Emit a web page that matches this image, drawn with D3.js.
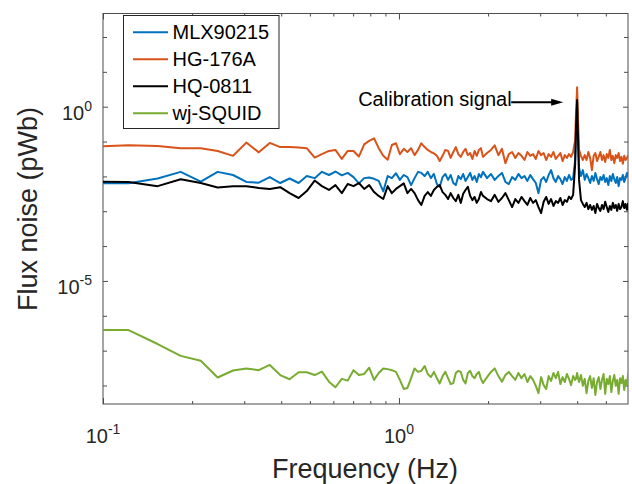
<!DOCTYPE html>
<html>
<head>
<meta charset="utf-8">
<script src="https://cdn.jsdelivr.net/npm/d3@7"></script>
<style>
  body { margin: 0; background: #fff; }
  text { font-family: "Liberation Sans", Arial, sans-serif; fill: #262626; }
</style>
</head>
<body>
<svg width="632" height="484"></svg>
<script>
// FFT frequency bins (Hz)
const freqHz = [
  0.092,0.122,0.153,0.183,0.214,0.244,0.275,0.305,0.336,0.366,
  0.397,0.427,0.458,0.488,0.519,0.549,0.580,0.610,0.641,0.671,
  0.702,0.732,0.763,0.793,0.824,0.854,0.885,0.916,0.946,0.977,
  1.007,1.038,1.068,1.099,1.129,1.160,1.190,1.221,1.251,1.282,
  1.312,1.343,1.373,1.404,1.434,1.465,1.495,1.526,1.556,1.587,
  1.617,1.648,1.678,1.709,1.740,1.770,1.801,1.831,1.862,1.892,
  1.923,
  1.984,2.045,2.106,2.167,2.228,2.289,2.350,2.411,2.472,2.533,
  2.594,2.655,2.716,2.777,2.838,2.899,2.960,3.021,3.082,3.143,
  3.204,3.265,3.326,3.387,3.449,3.510,3.571,3.632,3.693,3.754,
  3.815,3.876,3.937,
  3.967,3.998,4.028,
  4.059,4.120,4.181,4.242,4.303,4.364,4.425,4.486,4.547,4.608,
  4.669,4.730,4.791,4.852,4.913,4.974,5.035,5.096,5.157,5.218,
  5.279,5.340,5.401,5.462,5.523,5.584,5.645,5.706,5.767,5.829,
  5.890,5.951
];

// flux noise, log10 of pWb, one value per bin
const mlxLog = [
  -2.20,-2.20,-2.06,-1.87,-2.15,-1.87,-1.96,-2.16,-2.18,-2.02,
  -2.19,-2.06,-2.19,-1.99,-2.05,-1.87,-1.96,-1.86,-1.97,-1.90,
  -2.02,-2.20,-2.05,-2.03,-2.07,-2.13,-2.43,-1.99,-2.05,-1.91,
  -2.10,-1.96,-2.02,-2.25,-2.05,-1.87,-1.90,-1.99,-1.87,-2.05,
  -1.93,-2.22,-2.30,-2.02,-1.93,-2.10,-1.96,-2.19,-2.25,-1.99,
  -2.08,-1.93,-2.13,-2.02,-1.90,-2.10,-1.99,-2.16,-1.93,-2.02,
  -1.87,
  -2.05,-1.93,-2.10,-1.99,-1.90,-2.16,-2.22,-2.02,-2.10,-1.93,
  -2.05,-1.99,-2.13,-1.96,-2.08,-2.19,-2.48,-2.10,-2.02,-2.16,
  -1.96,-1.82,-2.05,-2.16,-1.99,-2.08,-2.22,-2.02,-2.13,-1.96,
  -2.10,-2.05,-1.53,
  -0.53,0.05,-0.81,
  -1.76,-1.99,-1.82,-2.10,-1.93,-2.05,-2.19,-1.99,-2.13,-1.90,
  -2.08,-2.22,-2.02,-2.10,-1.96,-2.16,-2.05,-2.25,-1.99,-2.13,
  -1.93,-2.08,-2.19,-2.02,-2.28,-2.05,-2.10,-1.96,-2.16,-2.05,
  -1.90,-1.99
];
const hgLog = [
  -1.15,-1.11,-1.13,-1.19,-1.19,-1.27,-1.41,-1.03,-1.31,-1.04,
  -1.16,-1.16,-1.17,-1.19,-1.46,-1.36,-1.27,-1.24,-1.50,-1.27,
  -1.27,-1.43,-1.08,-0.98,-0.91,-1.19,-1.41,-1.52,-1.10,-1.05,
  -1.36,-1.21,-1.30,-1.19,-1.39,-1.24,-1.05,-1.16,-1.24,-1.30,
  -1.34,-1.41,-1.56,-1.41,-1.24,-1.27,-1.47,-1.30,-1.16,-1.36,
  -1.44,-1.30,-1.21,-1.39,-1.33,-1.50,-1.27,-1.41,-1.24,-1.19,
  -1.44,
  -1.33,-1.24,-1.11,-1.39,-1.21,-1.62,-1.36,-1.30,-1.47,-1.33,
  -1.41,-1.53,-1.30,-1.41,-1.36,-1.50,-1.27,-1.39,-1.33,-1.53,
  -1.36,-1.44,-1.30,-1.50,-1.41,-1.33,-1.56,-1.39,-1.47,-1.36,
  -1.44,-1.30,-0.96,
  -0.10,0.56,-0.38,
  -1.24,-1.41,-1.53,-1.39,-1.53,-1.30,-1.47,-1.82,-1.41,-1.33,
  -1.56,-1.44,-1.30,-1.53,-1.39,-1.59,-1.36,-1.47,-1.24,-1.53,
  -1.41,-1.62,-1.39,-1.47,-1.33,-1.56,-1.44,-1.64,-1.41,-1.53,
  -1.47,-1.39
];
const hqLog = [
  -2.15,-2.16,-2.28,-2.08,-2.19,-2.32,-2.28,-2.28,-2.33,-2.36,
  -2.31,-2.48,-2.62,-2.42,-2.12,-2.28,-2.39,-2.25,-2.48,-2.22,
  -2.28,-2.19,-2.36,-2.25,-2.45,-2.56,-2.65,-2.28,-2.48,-2.36,
  -2.28,-2.20,-2.48,-2.36,-2.48,-2.68,-2.82,-2.56,-2.45,-2.56,
  -2.39,-2.30,-2.25,-2.45,-2.53,-2.65,-2.48,-2.62,-2.71,-2.53,
  -2.76,-2.50,-2.39,-2.30,-2.56,-2.68,-2.59,-2.76,-2.65,-2.45,
  -2.56,
  -2.65,-2.71,-2.53,-2.73,-2.62,-2.48,-2.68,-2.88,-2.65,-2.76,
  -2.59,-2.71,-2.82,-2.62,-2.76,-2.68,-2.88,-3.05,-2.73,-2.59,
  -2.79,-2.65,-2.85,-2.71,-2.76,-2.62,-2.82,-2.68,-2.73,-2.58,
  -2.65,-2.53,-1.67,
  -0.53,0.19,-0.96,
  -2.10,-2.68,-2.79,-2.88,-2.76,-2.94,-2.82,-2.96,-2.85,-3.05,
  -2.79,-2.91,-2.99,-2.82,-2.94,-2.73,-2.88,-3.02,-2.85,-2.96,
  -2.76,-2.91,-2.82,-2.99,-2.79,-2.94,-2.88,-2.71,-2.91,-2.79,
  -2.96,-2.76
];
const wjLog = [
  -6.41,-6.41,-6.81,-7.15,-7.29,-7.77,-7.57,-7.51,-7.56,-7.41,
  -7.70,-7.82,-7.62,-7.62,-7.70,-7.60,-7.89,-8.05,-7.81,-7.86,
  -7.56,-7.70,-7.67,-7.49,-7.84,-7.64,-7.51,-7.53,-7.56,-7.61,
  -7.84,-8.10,-8.07,-7.79,-7.51,-7.61,-7.58,-7.44,-7.67,-7.76,
  -7.61,-7.79,-7.94,-7.73,-7.61,-7.79,-7.96,-7.93,-7.64,-7.58,
  -7.61,-7.84,-7.94,-7.64,-7.58,-7.73,-7.79,-7.67,-7.61,-7.81,
  -7.93,
  -7.76,-7.61,-7.51,-7.73,-7.89,-7.70,-7.61,-7.73,-7.84,-7.64,
  -7.79,-7.67,-7.90,-7.73,-7.84,-8.01,-8.22,-7.76,-7.99,-8.10,
  -7.73,-7.87,-7.64,-7.79,-7.61,-7.96,-7.76,-7.90,-7.67,-7.81,
  -7.99,-7.73,-7.84,
  -7.79,-7.64,-7.79,
  -7.90,-7.70,-8.01,-7.81,-8.22,-7.87,-7.73,-8.07,-7.79,-8.27,
  -7.90,-7.76,-8.10,-7.84,-7.67,-8.24,-7.81,-7.96,-7.73,-8.19,
  -7.87,-7.70,-8.01,-7.84,-8.24,-7.79,-7.93,-7.73,-8.13,-7.84,
  -7.99,-7.64
];

const seriesNames = ['MLX90215', 'HG-176A', 'HQ-0811', 'wj-SQUID'];
const seriesColors = ['#0072BD', '#D95319', '#000000', '#77AC30'];
const seriesLogs = [mlxLog, hgLog, hqLog, wjLog];

const xMajorTicks = [0.1, 1];
const xMajorExp = ['-1', '0'];
const xMinorTicks = [0.2, 0.3, 0.4, 0.5, 0.6, 0.7, 0.8, 0.9, 2, 3, 4, 5];
const yMajorTicks = [1e-5, 1];
const yMajorExp = ['-5', '0'];
const yMinorTicks = [1e-8, 1e-7, 1e-6, 1e-4, 1e-3, 1e-2, 1e-1, 1e1, 1e2];

const calFreq = 4;      // calibration line
const calLevel = 1.34;  // arrow height, pWb

const svg = d3.select('svg');
const plot = { left: 103, right: 628, top: 13.5, bottom: 404 };

const x = d3.scaleLog().domain([0.1, 5.94]).range([plot.left, plot.right]);
const y = d3.scaleLog().domain([Math.pow(10, -8.531), Math.pow(10, 2.674)]).range([plot.bottom, plot.top]);

svg.append('defs').append('clipPath').attr('id', 'clip')
  .append('rect')
  .attr('x', plot.left).attr('y', plot.top)
  .attr('width', plot.right - plot.left).attr('height', plot.bottom - plot.top);

// ticks, pointing inward on all four sides
function ticks(axis, values, size, transform) {
  const g = svg.append('g').attr('transform', transform)
    .call(axis.tickValues(values).tickSize(-size).tickFormat(() => ''));
  g.select('.domain').remove();
  g.selectAll('line').attr('stroke', '#4d4d4d');
}
ticks(d3.axisBottom(x), xMajorTicks, 6, `translate(0,${plot.bottom})`);
ticks(d3.axisBottom(x), xMinorTicks, 3, `translate(0,${plot.bottom})`);
ticks(d3.axisTop(x), xMajorTicks, 6, `translate(0,${plot.top})`);
ticks(d3.axisTop(x), xMinorTicks, 3, `translate(0,${plot.top})`);
ticks(d3.axisLeft(y), yMajorTicks, 5, `translate(${plot.left},0)`);
ticks(d3.axisLeft(y), yMinorTicks, 4, `translate(${plot.left},0)`);
ticks(d3.axisRight(y), yMajorTicks, 5, `translate(${plot.right},0)`);
ticks(d3.axisRight(y), yMinorTicks, 4, `translate(${plot.right},0)`);

svg.append('rect')
  .attr('x', plot.left).attr('y', plot.top)
  .attr('width', plot.right - plot.left).attr('height', plot.bottom - plot.top)
  .attr('fill', 'none').attr('stroke', '#4d4d4d').attr('stroke-width', 1);

// tick labels as 10^n
function powerLabel(sel, exp) {
  sel.append('tspan').attr('font-size', 20).text('10');
  sel.append('tspan').attr('font-size', 14).attr('dy', -9).text(exp);
}
xMajorTicks.forEach((t, i) => {
  svg.append('text').attr('x', x(t)).attr('y', 443)
    .attr('text-anchor', 'middle')
    .call(powerLabel, xMajorExp[i]);
});
yMajorTicks.forEach((t, i) => {
  svg.append('text').attr('x', 92).attr('y', y(t) + 13.5)
    .attr('text-anchor', 'end')
    .call(powerLabel, yMajorExp[i]);
});

svg.append('text').attr('x', 365).attr('y', 478)
  .attr('text-anchor', 'middle').attr('font-size', 27)
  .text('Frequency (Hz)');
svg.append('text').attr('transform', 'translate(37,209) rotate(-90)')
  .attr('text-anchor', 'middle').attr('font-size', 27)
  .text('Flux noise (pWb)');

// series
const line = d3.line().x(d => x(d.f)).y(d => y(d.v));
const lines = svg.append('g').attr('clip-path', 'url(#clip)');
seriesLogs.forEach((logs, i) => {
  const data = freqHz.map((f, j) => ({ f: f, v: Math.pow(10, logs[j]) }));
  lines.append('path').datum(data)
    .attr('d', line)
    .attr('fill', 'none')
    .attr('stroke', seriesColors[i])
    .attr('stroke-width', 2)
    .attr('stroke-linejoin', 'round');
});

// annotation
const ax = x(calFreq) - 14, ay = y(calLevel);
svg.append('text').attr('x', ax - 205).attr('y', ay + 4)
  .attr('font-size', 20).style('fill', '#000')
  .text('Calibration signal');
svg.append('line')
  .attr('x1', ax - 52).attr('x2', ax - 10).attr('y1', ay).attr('y2', ay)
  .attr('stroke', '#000').attr('stroke-width', 2);
svg.append('path')
  .attr('d', `M${ax},${ay} L${ax - 12},${ay - 3.5} L${ax - 12},${ay + 3.5} Z`)
  .attr('fill', '#000');

// legend
const legend = svg.append('g');
legend.append('rect')
  .attr('x', 123.5).attr('y', 15.5).attr('width', 155.5).attr('height', 113)
  .attr('fill', '#fff').attr('stroke', '#262626').attr('stroke-width', 1);
seriesNames.forEach((name, i) => {
  const ly = 32.3 + 27 * i;
  legend.append('line')
    .attr('x1', 133).attr('x2', 168).attr('y1', ly).attr('y2', ly)
    .attr('stroke', seriesColors[i]).attr('stroke-width', 2);
  legend.append('text')
    .attr('x', 172.5).attr('y', ly + 7)
    .attr('font-size', 20).style('fill', '#000')
    .text(name);
});
</script>
</body>
</html>
